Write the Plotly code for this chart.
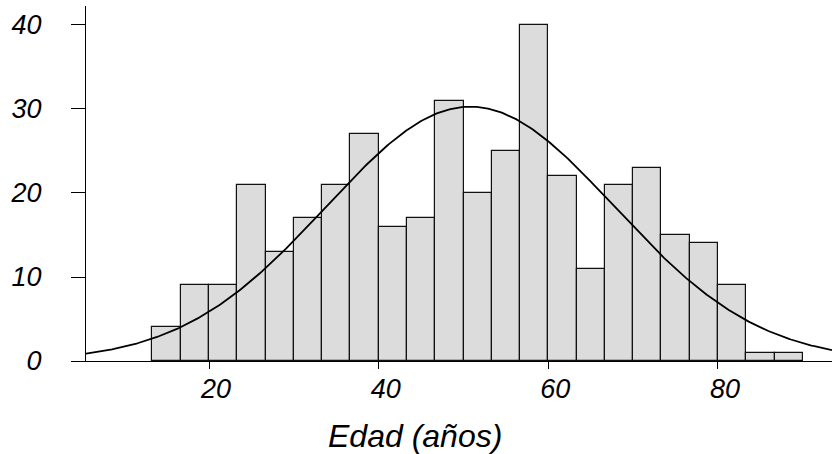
import numpy as np
import plotly.graph_objects as go

# Histogram data: age bins (width 10/3 years starting at 13.33)
bin_start = 40 / 3
bin_width = 10 / 3
counts = [4, 9, 9, 21, 13, 17, 21, 27, 16, 17, 31, 20, 25, 40, 22, 11, 21, 23, 15, 14, 9, 1, 1]
bin_centers = [bin_start + bin_width * (i + 0.5) for i in range(len(counts))]

# Fitted normal curve parameters
mean_age = 50.8
sd_age = 17.0
n_total = sum(counts)

x_ticks = [20, 40, 60, 80]
y_ticks = [0, 10, 20, 30, 40]
x_title = "Edad (años)"

x_range = [5.5, 93.44]
y_range = [0, 42.26]

xs = np.linspace(x_range[0], x_range[1], 400)
ys = n_total * bin_width / (sd_age * np.sqrt(2 * np.pi)) * np.exp(-0.5 * ((xs - mean_age) / sd_age) ** 2)

font_family = "Liberation Sans, Arial, Helvetica, sans-serif"

fig = go.Figure()
fig.add_trace(go.Bar(
    x=bin_centers, y=counts, width=bin_width,
    marker=dict(color="#dcdcdc", line=dict(color="#111111", width=1.2)),
    showlegend=False, hoverinfo="skip",
))
fig.add_trace(go.Scatter(
    x=xs, y=ys, mode="lines",
    line=dict(color="black", width=1.8),
    showlegend=False, hoverinfo="skip",
))

fig.update_layout(
    width=834, height=454,
    margin=dict(l=86, r=2, t=6, b=93),
    plot_bgcolor="white", paper_bgcolor="white",
    bargap=0,
    font=dict(family=font_family, color="black"),
)
fig.add_annotation(
    text=x_title, xref="paper", yref="paper", x=0.441, y=-0.211,
    xanchor="center", yanchor="middle", showarrow=False,
    font=dict(size=32, style="italic", family=font_family, color="black"),
)
fig.update_xaxes(
    range=x_range, tickvals=x_ticks, ticktext=[str(v) for v in x_ticks],
    showgrid=False, zeroline=False,
    showline=True, linecolor="black", linewidth=1.3,
    ticks="outside", ticklen=7, tickwidth=1.3, tickcolor="black",
    tickfont=dict(size=27, style="italic", family=font_family),
    ticklabelshift=7, ticklabelstandoff=-4,
)
fig.update_yaxes(
    range=y_range, tickvals=y_ticks, ticktext=[str(v) for v in y_ticks],
    showgrid=False, zeroline=False,
    showline=True, linecolor="black", linewidth=1.3,
    ticks="outside", ticklen=14, tickwidth=1.3, tickcolor="black",
    tickfont=dict(size=27, style="italic", family=font_family),
    ticklabelstandoff=24,
)

fig.write_html("out.html")
